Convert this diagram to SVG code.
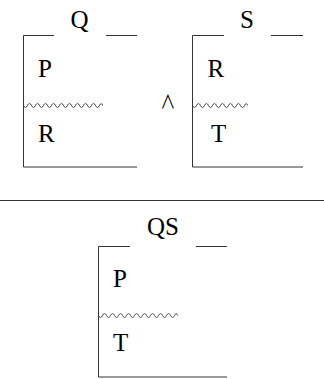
<svg xmlns="http://www.w3.org/2000/svg" width="324" height="379" viewBox="0 0 324 379">
<style>
.ln{stroke:#333;stroke-width:1;fill:none}
.wv{stroke:#333;stroke-width:0.9;fill:none}
.t{font-family:"Liberation Serif","Times New Roman",serif;font-size:25px;fill:#000}
.op{font-family:"Noto Sans CJK JP",sans-serif;font-size:18px;font-weight:400;fill:#000}
</style>
<rect width="324" height="379" fill="#fff"/>
<g id="box-Q">
<path class="ln" d="M54,35.5 H23.5 V167 H137 M106,35.5 H137"/>
<text class="t" x="79.5" y="27.5" text-anchor="middle">Q</text>
<text class="t" x="38" y="77">P</text>
<path class="wv" d="M23.5,105.5 q2,4 4,0 t4,0 t4,0 t4,0 t4,0 t4,0 t4,0 t4,0 t4,0 t4,0 t4,0 t4,0 t4,0 t4,0 t4,0 t4,0 t4,0 t4,0 t4,0 t3,0"/>
<text class="t" x="38" y="142">R</text>
</g>
<g id="and">
<text class="op" x="168" y="104" text-anchor="middle" transform="translate(168,0) scale(0.85,1.05) translate(-168,0)">∧</text>
</g>
<g id="box-S">
<path class="ln" d="M224,35.5 H192.5 V167 H303 M271,35.5 H303"/>
<text class="t" x="247" y="27.5" text-anchor="middle">S</text>
<text class="t" x="207.5" y="77">R</text>
<path class="wv" d="M192.5,105.5 q2,4 4,0 t4,0 t4,0 t4,0 t4,0 t4,0 t4,0 t4,0 t4,0 t4,0 t4,0 t4,0 t4,0 t3,0"/>
<text class="t" x="211" y="142">T</text>
</g>
<g id="rule">
<path class="ln" d="M0,200.5 H324"/>
</g>
<g id="box-QS">
<path class="ln" d="M130,246.5 H98.5 V377 H227 M196,246.5 H227"/>
<text class="t" x="163" y="235" text-anchor="middle">QS</text>
<text class="t" x="113" y="287">P</text>
<path class="wv" d="M98.5,315.5 q2,4 4,0 t4,0 t4,0 t4,0 t4,0 t4,0 t4,0 t4,0 t4,0 t4,0 t4,0 t4,0 t4,0 t4,0 t4,0 t4,0 t4,0 t4,0 t4,0 t3,0"/>
<text class="t" x="113" y="351">T</text>
</g>
</svg>
